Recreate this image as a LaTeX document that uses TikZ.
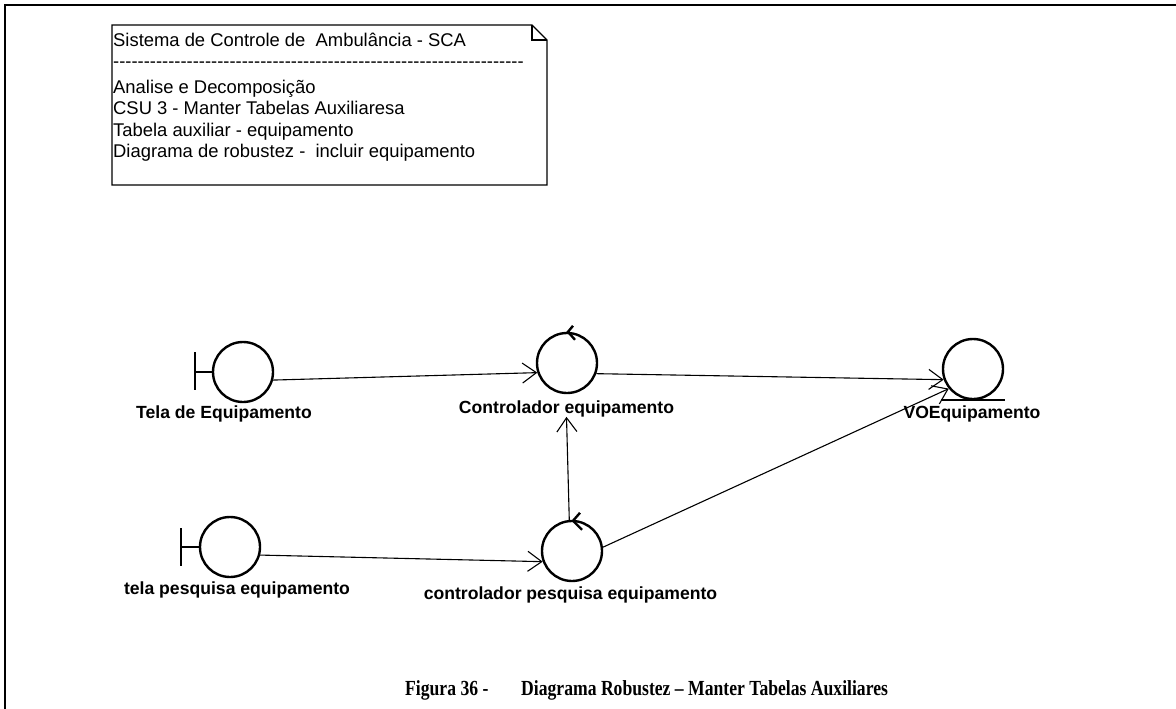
\documentclass[tikz,border=0pt]{standalone}
\usepackage{fontspec}
\setmainfont{Liberation Sans}
\newfontfamily\capfont{Liberation Serif}
\usetikzlibrary{arrows.meta}

\tikzset{
  frameline/.style={line width=2.6pt},
  noteline/.style={line width=1.3pt},
  icon/.style={circle, draw, line width=2.4pt, minimum size=60pt, inner sep=0pt},
  glyph/.style={line width=2.4pt},
  notetext/.style={anchor=base west, inner sep=0pt, font=\fontsize{18.4}{20}\selectfont},
  lbl/.style={anchor=base, inner sep=0pt, font=\bfseries\fontsize{17.6}{20}\selectfont},
  link/.style={line width=1.1pt, -{Straight Barb[length=14pt,width=20pt,line width=1.1pt]}},
  captext/.style={anchor=base west, inner sep=0pt, xscale=0.82, transform shape,
                  font=\capfont\bfseries\fontsize{21.5}{25}\selectfont},
}

\begin{document}
\begin{tikzpicture}[x=1pt,y=-1pt]
\useasboundingbox (0,0) rectangle (1176,709);

% page frame (top and left edges)
\draw[frameline] (1176,5) -- (5,5) -- (5,709);

% note with folded corner
\draw[noteline] (112,25) -- (532,25) -- (547,40) -- (547,185) -- (112,185) -- cycle;
\draw[noteline] (532,25) -- (532,40) -- (547,40);
\node[notetext] (n1) at (113,47) {Sistema de Controle de\ \ Ambulância - SCA};
\node[notetext] (n2) at (113,68) {\foreach \i in {1,...,67}{-}};
\node[notetext] (n3) at (113,93) {Analise e Decomposição};
\node[notetext] (n4) at (113,114) {CSU 3 - Manter Tabelas Auxiliaresa};
\node[notetext] (n5) at (113,136) {Tabela auxiliar - equipamento};
\node[notetext] (n6) at (113,157) {Diagrama de robustez -\ \ incluir equipamento};

% boundary: Tela de Equipamento
\node[icon] (tela) at (243,372) {};
\coordinate (telaBar) at (195,372);
\draw[glyph] (195,352) -- (195,390);
\draw[glyph] (telaBar) -- (tela.west);
\node[lbl] (telaL) at (224,418) {Tela de Equipamento};

% boundary: tela pesquisa equipamento
\node[icon] (telap) at (230,547) {};
\coordinate (telapBar) at (181,547);
\draw[glyph] (181,528) -- (181,566);
\draw[glyph] (telapBar) -- (telap.west);
\node[lbl] (telapL) at (237,594) {tela pesquisa equipamento};

% control: Controlador equipamento
\node[icon] (ctrl) at (567,363) {};
\draw[glyph] ([shift={(6,-6)}]ctrl.north) -- ([shift={(1,0)}]ctrl.north) -- ([shift={(8,8)}]ctrl.north);
\node[lbl] (ctrlL) at (566.5,413) {Controlador equipamento};

% control: controlador pesquisa equipamento
\node[icon] (cpesq) at (572,551) {};
\draw[glyph] ([shift={(8,-7)}]cpesq.north) -- ([shift={(1,1)}]cpesq.north) -- ([shift={(10,10)}]cpesq.north);
\node[lbl] (cpesqL) at (570.5,599) {controlador pesquisa equipamento};

% entity: VOEquipamento
\node[icon] (vo) at (973,369) {};
\draw[glyph] ([xshift=-32pt]vo.south) -- ([xshift=32pt]vo.south);
\node[lbl] (voL) at (972,418) {VOEquipamento};

% associations
\draw[link] (tela.-15) -- (ctrl.198);
\draw[link] (ctrl.-20) -- (vo.200);
\draw[link] (cpesq.95) -- (ctrlL.south);
\draw[link] (telap.-15) -- (cpesq.200);
\draw[link] (cpesq.7) -- (vo.219);

% caption
\node[captext] (cap) at (405,695)
  {Figura 36 -\hspace{40pt}Diagrama Robustez – Manter Tabelas Auxiliares};
\end{tikzpicture}
\end{document}
